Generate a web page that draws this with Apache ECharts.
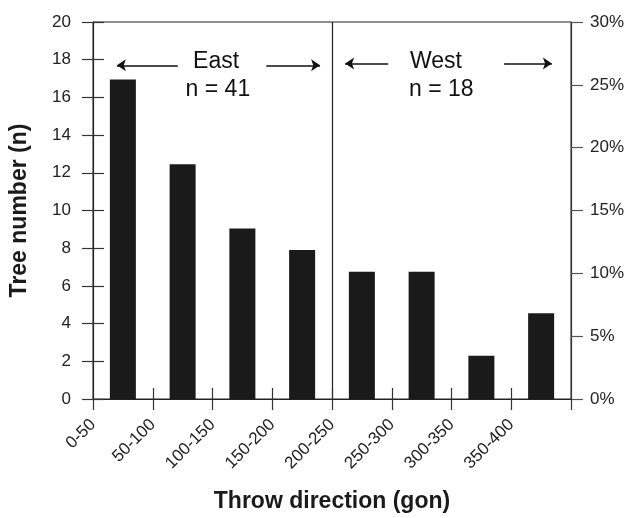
<!DOCTYPE html>
<html>
<head>
<meta charset="utf-8">
<script src="https://cdn.jsdelivr.net/npm/echarts@6/dist/echarts.min.js"></script>
<style>html,body{margin:0;padding:0;background:#fff;}#c{width:628px;height:518px;}</style>
</head>
<body>
<div id="c"></div>
<script>
var categories = ['0-50','50-100','100-150','150-200','200-250','250-300','300-350','350-400'];
var treeCounts = [16.95, 12.45, 9.05, 7.9, 6.75, 6.75, 2.3, 4.55];
var leftTicks = {min: 0, max: 20, interval: 2};
var rightTicks = {min: 0, max: 30, interval: 5};

var FONT = '"Liberation Sans", Arial, Helvetica, sans-serif';
var chart = echarts.init(document.getElementById('c'), null, {renderer: 'canvas'});

var labelCats = categories.concat(['']);

var option = {
  animation: false,
  backgroundColor: '#fff',
  textStyle: {fontFamily: FONT},
  grid: {left: 93, right: 57, top: 22, bottom: 116, show: true, borderColor: '#222', borderWidth: 1, backgroundColor: 'transparent'},
  xAxis: [
    {
      type: 'category', data: categories, boundaryGap: true, position: 'bottom',
      axisLine: {show: true, lineStyle: {color: '#222', width: 1.2}},
      axisTick: {show: true, inside: false, length: 11, interval: 0, lineStyle: {color: '#333', width: 1.2}},
      axisLabel: {show: false},
      splitLine: {show: false}
    },
    {
      type: 'category', data: labelCats, boundaryGap: false, position: 'bottom',
      axisLine: {show: false},
      axisTick: {show: true, inside: true, length: 11, interval: function(i){return i > 0 && i < 8;}, lineStyle: {color: '#333', width: 1.2}},
      axisLabel: {show: true, interval: 0, rotate: 45, margin: 23, fontSize: 17, color: '#222', fontFamily: FONT},
      splitLine: {show: true, interval: function(i){return i === 4;}, lineStyle: {color: '#222', width: 1.2, type: 'solid'}},
      name: 'Throw direction (gon)', nameLocation: 'middle', nameGap: 91,
      nameTextStyle: {fontSize: 23, fontWeight: 'bold', color: '#1a1a1a', fontFamily: FONT}
    },
    {
      type: 'value', min: 0, max: 8, show: false
    }
  ],
  yAxis: [
    {
      type: 'value', position: 'left', min: leftTicks.min, max: leftTicks.max, interval: leftTicks.interval,
      axisLine: {show: true, lineStyle: {color: '#222', width: 1.2}},
      axisTick: {show: true, inside: false, length: 11, lineStyle: {color: '#333', width: 1.2}},
      axisLabel: {margin: 22, fontSize: 17, color: '#222', fontFamily: FONT},
      splitLine: {show: false},
      name: 'Tree number (n)', nameLocation: 'middle', nameGap: 62,
      nameTextStyle: {fontSize: 23, fontWeight: 'bold', color: '#1a1a1a', fontFamily: FONT}
    },
    {
      type: 'value', position: 'left', min: leftTicks.min, max: leftTicks.max, interval: leftTicks.interval,
      axisLine: {show: false},
      axisTick: {show: true, inside: true, length: 11, lineStyle: {color: '#333', width: 1.2}},
      axisLabel: {show: false},
      splitLine: {show: false}
    },
    {
      type: 'value', position: 'right', min: rightTicks.min, max: rightTicks.max, interval: rightTicks.interval,
      axisLine: {show: true, lineStyle: {color: '#333', width: 1.2}},
      axisTick: {show: true, inside: false, length: 12, lineStyle: {color: '#555', width: 1.2}},
      axisLabel: {margin: 19, fontSize: 17, color: '#222', fontFamily: FONT, formatter: '{value}%'},
      splitLine: {show: false}
    }
  ],
  series: [
    {
      type: 'bar', xAxisIndex: 0, yAxisIndex: 0, data: treeCounts, barWidth: 26,
      itemStyle: {color: '#1a1a1a'}
    },
    {
      type: 'line', xAxisIndex: 2, yAxisIndex: 0, data: [], silent: true,
      markLine: {
        silent: true, animation: false,
        symbolSize: [9, 9],
        label: {show: false},
        lineStyle: {color: '#111', width: 1.5, type: 'solid'},
        data: [
          [{coord: [0.40, 17.7], symbol: 'arrow'}, {coord: [1.42, 17.7], symbol: 'none'}],
          [{coord: [2.90, 17.7], symbol: 'none'}, {coord: [3.80, 17.7], symbol: 'arrow'}],
          [{coord: [4.22, 17.8], symbol: 'arrow'}, {coord: [4.94, 17.8], symbol: 'none'}],
          [{coord: [6.88, 17.8], symbol: 'none'}, {coord: [7.68, 17.8], symbol: 'arrow'}]
        ]
      },
      markPoint: {
        silent: true, symbol: 'circle', symbolSize: 1,
        itemStyle: {color: 'rgba(0,0,0,0)'},
        label: {show: true, position: 'inside', color: '#111', fontSize: 23, fontFamily: FONT},
        data: [
          {coord: [2.06, 17.87], value: 'East', label: {formatter: 'East'}},
          {coord: [2.09, 16.42], value: 'n = 41', label: {formatter: 'n = 41'}},
          {coord: [5.74, 17.87], value: 'West', label: {formatter: 'West'}},
          {coord: [5.83, 16.42], value: 'n = 18', label: {formatter: 'n = 18'}}
        ]
      }
    }
  ]
};
chart.setOption(option);
</script>
</body>
</html>
